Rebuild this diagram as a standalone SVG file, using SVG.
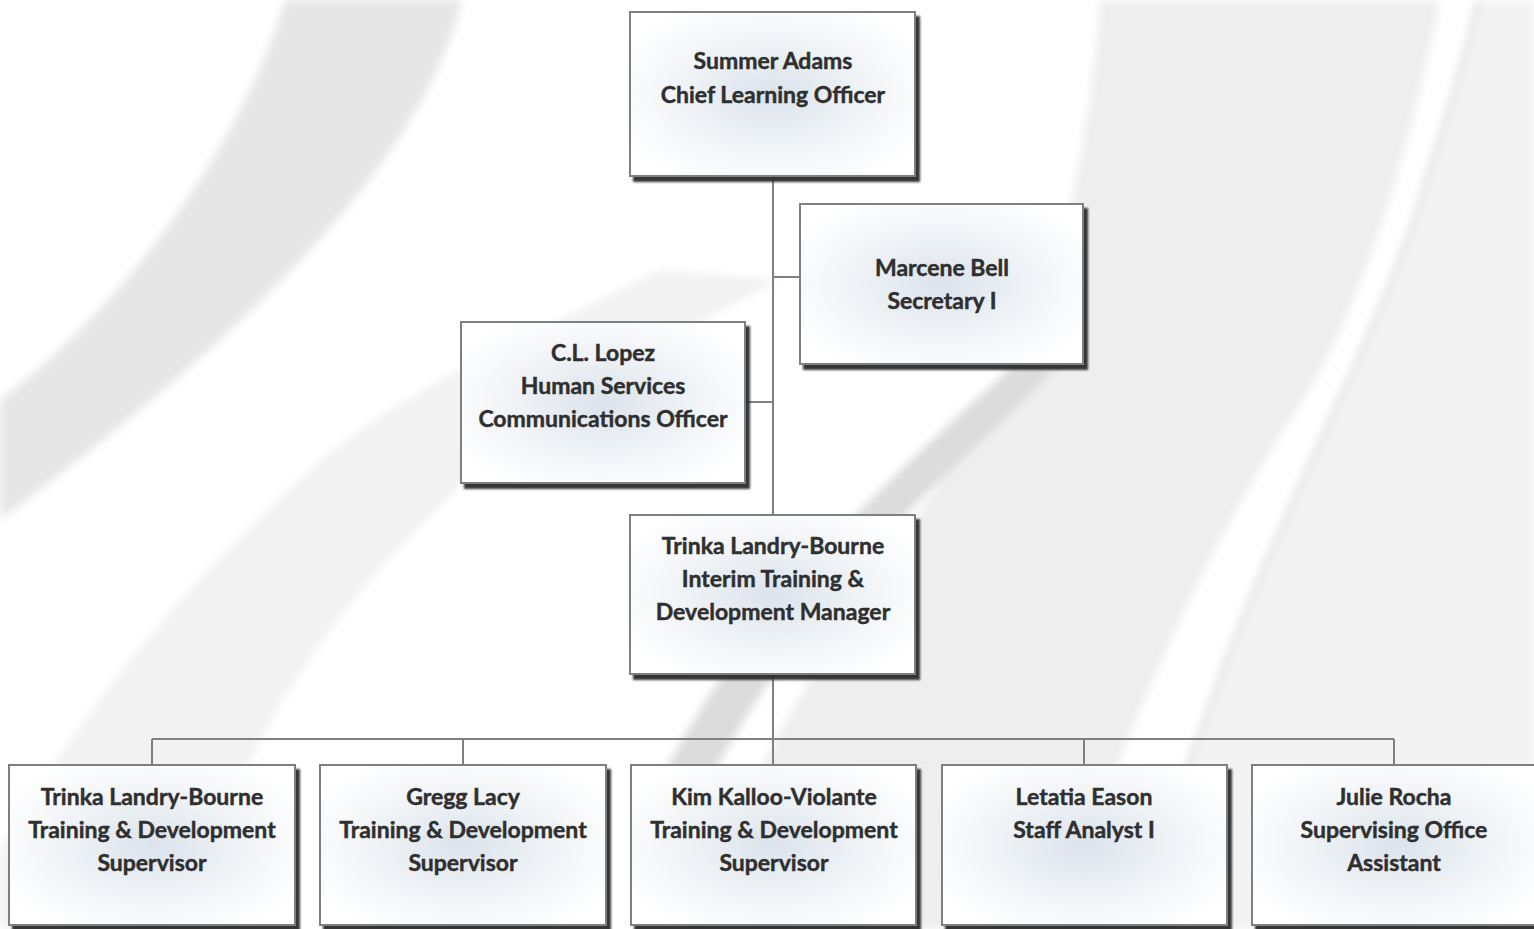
<svg xmlns="http://www.w3.org/2000/svg" width="1534" height="929" viewBox="0 0 1534 929">
<defs>
<style>
.box{fill:url(#g);stroke:#7f7f7f;stroke-width:2;filter:url(#sh)}
.t{font-family:Lato,"Open Sans",sans-serif;font-weight:bold;font-size:23px;fill:#2f2f2f;stroke:#2f2f2f;stroke-width:0.45;text-anchor:middle}
.c{fill:none;stroke:#808080;stroke-width:2}
</style>
<radialGradient id="g" cx="0.5" cy="0.5" r="0.6">
<stop offset="0" stop-color="#dbe3ec"/>
<stop offset="0.55" stop-color="#f1f4f7"/>
<stop offset="1" stop-color="#ffffff"/>
</radialGradient>
<filter id="sh" x="-10%" y="-10%" width="125%" height="125%">
<feGaussianBlur in="SourceAlpha" stdDeviation="1.3" result="b"/>
<feOffset in="b" dx="4" dy="5" result="o"/>
<feFlood flood-color="#2a2a2a" flood-opacity="0.95"/>
<feComposite in2="o" operator="in" result="s"/>
<feMerge><feMergeNode in="s"/><feMergeNode in="SourceGraphic"/></feMerge>
</filter>
<filter id="bl"><feGaussianBlur stdDeviation="4"/></filter>
</defs>
<rect width="1534" height="929" fill="#ffffff"/>
<g id="background" filter="url(#bl)">
<path d="M285,0 C240,150 120,310 0,400 L0,520 C200,370 420,180 462,0 Z" fill="#e6e6e6"/>
<path d="M660,270 C520,340 380,400 300,480 C180,590 90,700 0,850 L0,929 L180,929 C210,860 230,800 250,760 C320,620 420,520 500,450 C590,380 700,320 780,280 Z" fill="#f2f2f2"/>
<path d="M1100,0 L1440,0 C1410,150 1360,320 1290,420 C1200,560 1120,740 1060,929 L700,929 C720,840 780,720 860,600 C940,480 1020,380 1060,250 C1080,170 1095,80 1100,0 Z" fill="#eeeeee"/>
<path d="M1478,0 L1534,0 L1534,929 L1130,929 C1160,840 1190,760 1230,650 C1300,470 1380,330 1420,200 C1445,120 1465,60 1478,0 Z" fill="#f3f3f3"/>
<path d="M1478,0 C1465,60 1445,120 1420,200 C1380,330 1300,470 1230,650 C1190,760 1160,840 1130,929" fill="none" stroke="#dddddd" stroke-width="4"/>
<path d="M1050,330 C1000,380 940,430 880,490 C800,570 720,660 650,800 L700,800 C760,680 840,580 920,500 C980,440 1040,390 1075,345 Z" fill="#dcdcdc"/>
</g>
<g id="connectors" class="c">
<path class="c" d="M773,176 V515"/>
<path class="c" d="M773,277 H800"/>
<path class="c" d="M745,402 H773"/>
<path class="c" d="M773,674 V739"/>
<path class="c" d="M152,739 H1394"/>
<path class="c" d="M152,739 V765 M463,739 V765 M773,739 V765 M1084,739 V765 M1394,739 V765"/>
</g>
<g id="summer-adams">
<rect class="box" x="630" y="12" width="285" height="164"/>
<text class="t" x="773" y="69">Summer Adams</text>
<text class="t" x="773" y="103">Chief Learning Officer</text>
</g>
<g id="marcene-bell">
<rect class="box" x="800" y="204" width="283" height="160"/>
<text class="t" x="942" y="276">Marcene Bell</text>
<text class="t" x="942" y="309">Secretary I</text>
</g>
<g id="cl-lopez">
<rect class="box" x="461" y="322" width="284" height="161"/>
<text class="t" x="603" y="361">C.L. Lopez</text>
<text class="t" x="603" y="394">Human Services</text>
<text class="t" x="603" y="427">Communications Officer</text>
</g>
<g id="trinka-manager">
<rect class="box" x="630" y="515" width="285" height="159"/>
<text class="t" x="773" y="554">Trinka Landry-Bourne</text>
<text class="t" x="773" y="587">Interim Training &amp;</text>
<text class="t" x="773" y="620">Development Manager</text>
</g>
<g id="trinka-supervisor">
<rect class="box" x="9" y="765" width="286" height="160"/>
<text class="t" x="152" y="805">Trinka Landry-Bourne</text>
<text class="t" x="152" y="838">Training &amp; Development</text>
<text class="t" x="152" y="871">Supervisor</text>
</g>
<g id="gregg-lacy">
<rect class="box" x="320" y="765" width="286" height="160"/>
<text class="t" x="463" y="805">Gregg Lacy</text>
<text class="t" x="463" y="838">Training &amp; Development</text>
<text class="t" x="463" y="871">Supervisor</text>
</g>
<g id="kim-kalloo-violante">
<rect class="box" x="631" y="765" width="285" height="160"/>
<text class="t" x="774" y="805">Kim Kalloo-Violante</text>
<text class="t" x="774" y="838">Training &amp; Development</text>
<text class="t" x="774" y="871">Supervisor</text>
</g>
<g id="letatia-eason">
<rect class="box" x="942" y="765" width="285" height="160"/>
<text class="t" x="1084" y="805">Letatia Eason</text>
<text class="t" x="1084" y="838">Staff Analyst I</text>
</g>
<g id="julie-rocha">
<rect class="box" x="1252" y="765" width="290" height="160"/>
<text class="t" x="1394" y="805">Julie Rocha</text>
<text class="t" x="1394" y="838">Supervising Office</text>
<text class="t" x="1394" y="871">Assistant</text>
</g>
</svg>
